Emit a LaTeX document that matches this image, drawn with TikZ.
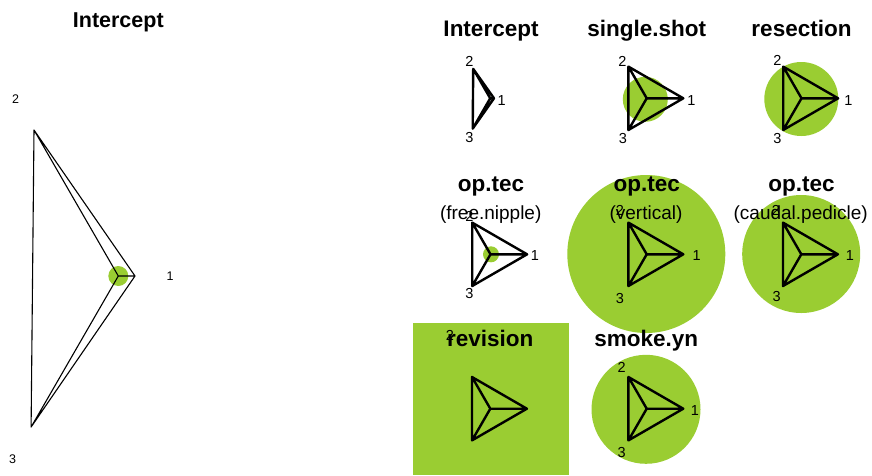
\documentclass[tikz,border=0pt]{standalone}
\usepackage{fontspec}
\setmainfont{Liberation Sans}
\definecolor{ygreen}{RGB}{154,205,50}
\tikzset{
  glyphthick/.style={line width=2.4pt, line join=round, line cap=round},
  glyphthin/.style={line width=1.1pt, line join=round, line cap=round},
  blob/.style={fill=ygreen, draw=none},
  axislabel/.style={inner sep=0pt, font=\fontsize{14.5}{14.5}\selectfont},
  smalllabel/.style={inner sep=0pt, font=\fontsize{12.5}{12.5}\selectfont},
  paneltitle/.style={inner sep=0pt, anchor=base, font=\fontsize{22.5}{22.5}\selectfont\bfseries},
  bigtitle/.style={inner sep=0pt, anchor=base, font=\fontsize{21.5}{21.5}\selectfont\bfseries},
  subtitle/.style={inner sep=0pt, anchor=base, font=\fontsize{19}{19}\selectfont},
}
% star glyph: #1 prefix, #2 centre, #3 #4 #5 radii along axes 1, 2, 3, #6 line style
\newcommand\starglyph[6]{%
  \coordinate (#1c) at (#2);
  \coordinate (#1a) at ([shift={(0:#3)}]#1c);
  \coordinate (#1b) at ([shift={(-120:#4)}]#1c);
  \coordinate (#1d) at ([shift={(120:#5)}]#1c);
  \draw[#6] (#1b) -- (#1a) -- (#1d) -- cycle
            (#1c) -- (#1a) (#1c) -- (#1b) (#1c) -- (#1d);
}
\begin{document}
\begin{tikzpicture}[x=1pt,y=-1pt]
\useasboundingbox (0,0) rectangle (872,475);

% coefficient discs
\fill[blob] (118.3,276) circle (10);
\fill[blob] (490.2,98.3) circle (1.5);
\fill[blob] (645.3,99.3) circle (22.5);
\fill[blob] (801.3,99) circle (37);
\fill[blob] (491,254.3) circle (8);
\fill[blob] (646.3,254) circle (79);
\fill[blob] (801.2,254) circle (59);
\fill[blob] (646,409.3) circle (54.5);
\fill[blob] (413.3,323) rectangle (568.5,475);

% glyphs
\starglyph{big}{118.3,276}{16.7}{168.6}{174.4}{glyphthin}
\starglyph{int}{490.2,98.3}{3.8}{34}{35}{glyphthick}
\starglyph{sgl}{646.7,98.3}{36.6}{36.6}{36.6}{glyphthick}
\starglyph{res}{801.5,98.3}{36.6}{36.6}{36.6}{glyphthick}
\starglyph{fre}{490.5,254.3}{36.6}{36.6}{36.6}{glyphthick}
\starglyph{ver}{646.7,254.3}{36.6}{36.6}{36.6}{glyphthick}
\starglyph{cau}{801.3,254.3}{36.6}{36.6}{36.6}{glyphthick}
\starglyph{rev}{490.3,408.7}{36.6}{36.6}{36.6}{glyphthick}
\starglyph{smk}{646.7,408.7}{36.6}{36.6}{36.6}{glyphthick}

% axis labels
\node[smalllabel] (bigl2) at (15.7,99) {2};
\node[smalllabel] (bigl1) at (170,276) {1};
\node[smalllabel] (bigl3) at (12.7,459.5) {3};
\node[axislabel] (intl2) at (469.3,61.7) {2};
\node[axislabel] (intl1) at (501.7,100.5) {1};
\node[axislabel] (intl3) at (469.3,137.5) {3};
\node[axislabel] (sgll2) at (622.3,61.5) {2};
\node[axislabel] (sgll1) at (691.3,100.5) {1};
\node[axislabel] (sgll3) at (623,138.3) {3};
\node[axislabel] (resl2) at (777.3,60.5) {2};
\node[axislabel] (resl1) at (848.3,100.5) {1};
\node[axislabel] (resl3) at (777.3,138.3) {3};
\node[axislabel] (frel2) at (469.3,216.7) {2};
\node[axislabel] (frel1) at (535,256) {1};
\node[axislabel] (frel3) at (469.3,293.3) {3};
\node[axislabel] (verl2) at (620,210) {2};
\node[axislabel] (verl1) at (696.7,256) {1};
\node[axislabel] (verl3) at (620,298.3) {3};
\node[axislabel] (caul2) at (776,210) {2};
\node[axislabel] (caul1) at (850,256) {1};
\node[axislabel] (caul3) at (776.7,296.7) {3};
\node[axislabel] (revl2) at (450,335.3) {2};
\node[axislabel] (smkl2) at (621.7,367.3) {2};
\node[axislabel] (smkl1) at (695,410.7) {1};
\node[axislabel] (smkl3) at (621.7,452) {3};

% titles
\node[bigtitle] (bigt) at (118.3,27.3) {Intercept};
\node[paneltitle] (intt) at (491,36) {Intercept};
\node[paneltitle] (sglt) at (646.7,36) {single.shot};
\node[paneltitle] (rest) at (801.5,36) {resection};
\node[paneltitle] (fret) at (491,191) {op.tec};
\node[paneltitle] (vert) at (646.7,191) {op.tec};
\node[paneltitle] (caut) at (801.5,191) {op.tec};
\node[subtitle] (fres) at (490.7,219.5) {(free.nipple)};
\node[subtitle] (vers) at (646,219.5) {(vertical)};
\node[subtitle] (caus) at (800.7,219.5) {(caudal.pedicle)};
\node[paneltitle] (revt) at (490.3,346) {revision};
\node[paneltitle] (smkt) at (646.3,346) {smoke.yn};
\end{tikzpicture}
\end{document}
